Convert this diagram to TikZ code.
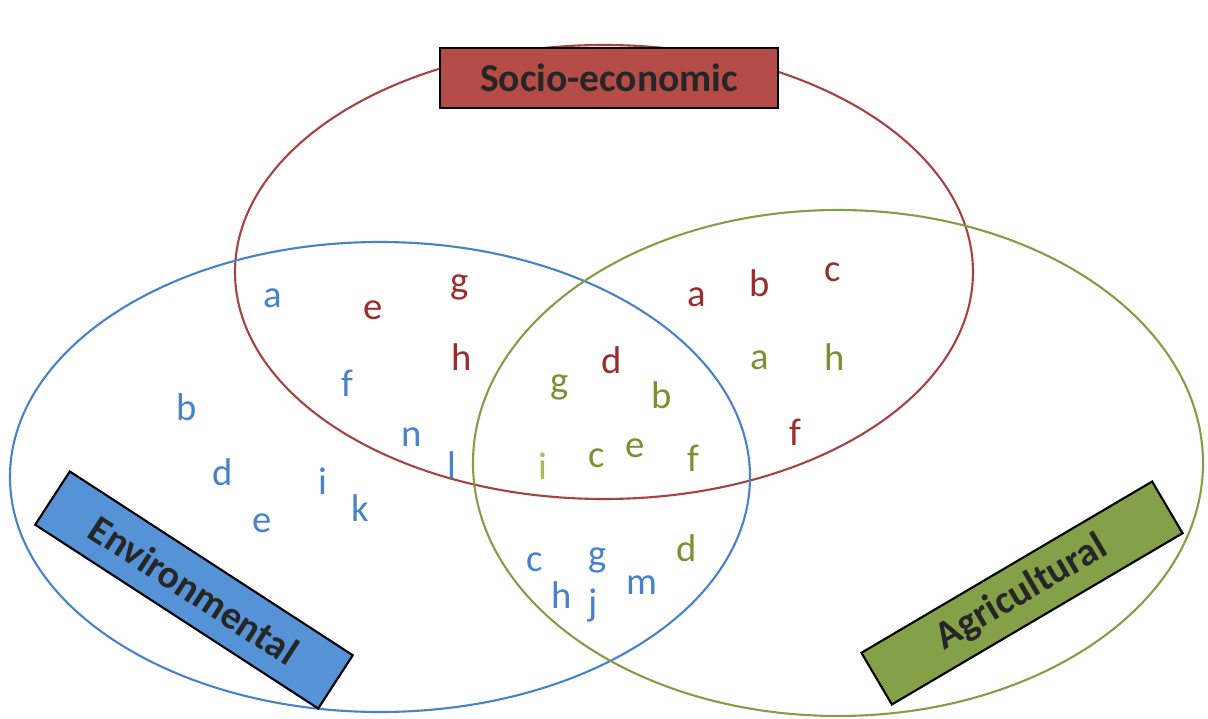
\documentclass[tikz,border=0pt]{standalone}
\usepackage{fontspec}
\setmainfont{Carlito}
\usepackage{xcolor}
\usetikzlibrary{shapes,positioning}
\definecolor{socred}{RGB}{155, 45, 45}
\definecolor{socfill}{RGB}{180, 76, 72}
\definecolor{envblue}{RGB}{72, 130, 200}
\definecolor{envfill}{RGB}{86, 146, 214}
\definecolor{agrgreen}{RGB}{122, 145, 50}
\definecolor{agrfill}{RGB}{132, 160, 72}
\definecolor{agrlight}{RGB}{165, 190, 80}

\begin{document}
\begin{tikzpicture}[
    x=0.02cm, y=-0.02cm,
    every node/.style={align=center, font=\fontsize{22}{26}\selectfont},
    socline/.style={draw=socred!90, line width=1.2pt},
    envline/.style={draw=envblue, line width=1.2pt},
    agrline/.style={draw=agrgreen!90, line width=1.2pt},
    tag/.style={rectangle, draw=black, line width=1.2pt, minimum width=6.75cm, minimum height=1.2cm, text=black!85, font=\fontsize{22.5}{26}\selectfont\bfseries},
    soc/.style={anchor=base, text=socred},
    env/.style={anchor=base, text=envblue},
    agr/.style={anchor=base, text=agrgreen}
]
\useasboundingbox (0,0) rectangle (1208,719);

% Sets
\draw[socline] (604,272) ellipse [x radius=369, y radius=227];
\draw[envline] (380,477) ellipse [x radius=370, y radius=235];
\draw[agrline] (838,463) ellipse [x radius=365, y radius=253];

% Set labels
\node[tag, fill=socfill] (soctag) at (609,78) {Socio-economic};
\node[tag, fill=envfill, rotate=-33, minimum height=1.27cm] (envtag) at (194,590) {Environmental};
\node[tag, fill=agrfill, rotate=30.5] (agrtag) at (1022,593) {Agricultural};

% Environmental items
\node[env] (ea) at (273,308) {a};
\node[env] (ef) at (347,397) {f};
\node[env] (eb) at (187,421) {b};
\node[env] (en) at (412,447) {n};
\node[env] (el) at (452,479) {l};
\node[env] (ed) at (223,486) {d};
\node[env] (ei) at (323,495) {i};
\node[env] (ek) at (360,522) {k};
\node[env] (ee) at (262,533) {e};
\node[env] (ec) at (535,572) {c};
\node[env] (eg) at (598,567) {g};
\node[env] (eh) at (562,609) {h};
\node[env] (ej) at (593,616) {j};
\node[env] (em) at (642,595) {m};

% Socio-economic items
\node[soc] (se) at (373,320) {e};
\node[soc] (sg) at (460,294) {g};
\node[soc] (sh) at (462,371) {h};
\node[soc] (sd) at (612,374) {d};
\node[soc] (sa) at (697,307) {a};
\node[soc] (sb) at (760,297) {b};
\node[soc] (sc) at (833,282) {c};
\node[soc] (sf) at (795,446) {f};

% Agricultural items
\node[agr] (ag) at (560,394) {g};
\node[agr] (ab) at (662,409) {b};
\node[agr, text=agrlight] (ai) at (543,480) {i};
\node[agr] (ac) at (597,468) {c};
\node[agr] (ae) at (635,458) {e};
\node[agr] (af) at (693,472) {f};
\node[agr] (aa) at (760,370) {a};
\node[agr] (ah) at (835,371) {h};
\node[agr] (ad) at (687,562) {d};

\end{tikzpicture}
\end{document}
